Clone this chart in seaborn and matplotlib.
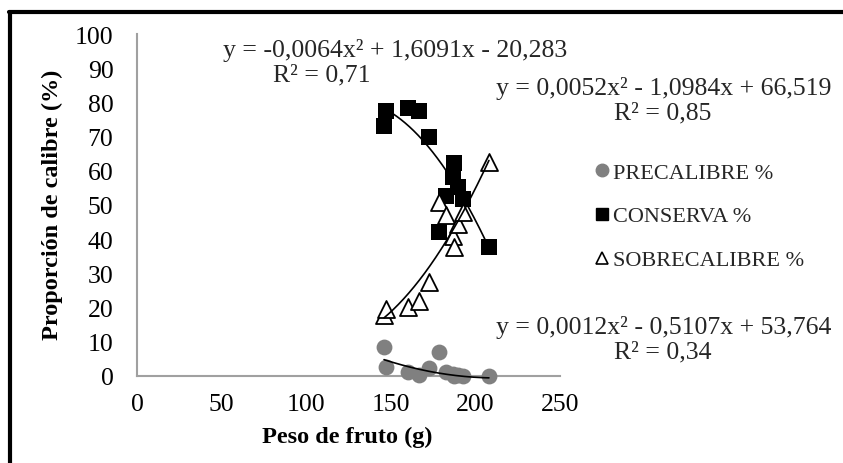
import numpy as np
import pandas as pd
import matplotlib
matplotlib.use("Agg")
import matplotlib.pyplot as plt
import seaborn as sns
from matplotlib.lines import Line2D

# Fruit weight (g) of each sample and the share of each size class (%)
peso = [146, 147, 160, 166.5, 172.5, 178.5, 182.5, 186.5, 187.5, 189.5, 192.5, 208]
precalibre = [8.4, 2.5, 1.1, 0.2, 2.2, 6.9, 1.1, 0.6, 0.1, 0.2, 0.0, 0.0]
conserva = [73.2, 77.6, 78.3, 77.6, 70.0, 42.0, 52.7, 58.1, 62.3, 55.2, 51.8, 37.6]
sobrecalibre = [17.8, 19.6, 20.1, 22.0, 27.6, 50.8, 47.1, 41.0, 37.6, 44.4, 47.9, 62.5]

series_names = ["PRECALIBRE %", "CONSERVA %", "SOBRECALIBRE %"]

# Second-order polynomial trend lines (highest power first)
coef_pre = [0.0012, -0.5107, 53.764]
coef_con = [-0.0064, 1.6091, -20.283]
coef_sob = [0.0052, -1.0984, 66.519]

eq_pre = "y = 0,0012x² - 0,5107x + 53,764"
r2_pre = "R² = 0,34"
eq_con = "y = -0,0064x² + 1,6091x - 20,283"
r2_con = "R² = 0,71"
eq_sob = "y = 0,0052x² - 1,0984x + 66,519"
r2_sob = "R² = 0,85"

x_ticks = [0, 50, 100, 150, 200, 250]
y_ticks = [0, 10, 20, 30, 40, 50, 60, 70, 80, 90, 100]

sns.set_theme(style="white")
plt.rcParams["font.family"] = ["Liberation Serif", "DejaVu Serif"]

W, H = 843, 464
fig = plt.figure(figsize=(W / 100, H / 100), dpi=100)


def fx(px):
    return px / W


def fy(py):
    return 1 - py / H


ax = fig.add_axes([fx(137), fy(377), fx(560) - fx(137), fy(35) - fy(377)])

df = pd.DataFrame({
    "peso": peso * 3,
    "valor": precalibre + conserva + sobrecalibre,
    "serie": [series_names[0]] * len(peso) + [series_names[1]] * len(peso)
             + [series_names[2]] * len(peso),
})

styles = {
    series_names[0]: dict(marker="o", color="#808080", edgecolor="#808080", s=130, linewidth=0),
    series_names[1]: dict(marker="s", color="black", edgecolor="black", s=130, linewidth=0),
    series_names[2]: dict(marker="^", color="white", edgecolor="black", s=150, linewidth=1.3),
}

for name in series_names:
    sub = df[df["serie"] == name]
    sns.scatterplot(data=sub, x="peso", y="valor", ax=ax, label=name, zorder=3,
                    clip_on=False, **styles[name])

# Trend curves over the observed weight range
xs = np.linspace(min(peso), max(peso), 200)
for coef in (coef_pre, coef_con, coef_sob):
    sns.lineplot(x=xs, y=np.polyval(coef, xs), ax=ax, color="black",
                 linewidth=1.2, zorder=4, legend=False, clip_on=False)

ax.set_xlim(0, 250)
ax.set_ylim(0, 100)
ax.set_xticks(x_ticks)
ax.set_yticks(y_ticks)
ax.tick_params(axis="both", length=0, labelsize=18.5, colors="black")
ax.tick_params(axis="y", pad=17)
ax.tick_params(axis="x", pad=12)
for side in ("top", "right"):
    ax.spines[side].set_visible(False)
for side in ("left", "bottom"):
    ax.spines[side].set_color("#a0a0a0")
    ax.spines[side].set_linewidth(1.5)
ax.set_xlabel("")
ax.set_ylabel("")
ax.legend_.remove()

fig.text(fx(52), fy(205), "Proporción de calibre (%)", rotation=90, ha="center",
         va="center", fontsize=17.5, fontweight="bold", color="black")
fig.text(fx(347), fy(437), "Peso de fruto (g)", ha="center", va="center",
         fontsize=17.5, fontweight="bold", color="black")

# Trend-line equations
eq_font = 18.5
fig.text(fx(395), fy(50), eq_con, ha="center", va="center", fontsize=eq_font)
fig.text(fx(322), fy(75), r2_con, ha="center", va="center", fontsize=eq_font)
fig.text(fx(664), fy(88), eq_sob, ha="center", va="center", fontsize=eq_font)
fig.text(fx(663), fy(113), r2_sob, ha="center", va="center", fontsize=eq_font)
fig.text(fx(664), fy(328), eq_pre, ha="center", va="center", fontsize=eq_font)
fig.text(fx(663), fy(352), r2_pre, ha="center", va="center", fontsize=eq_font)

# Legend to the right of the plot
handles = [
    Line2D([], [], linestyle="none", marker="o", markersize=9,
           markerfacecolor="#808080", markeredgecolor="#808080"),
    Line2D([], [], linestyle="none", marker="s", markersize=9,
           markerfacecolor="black", markeredgecolor="black"),
    Line2D([], [], linestyle="none", marker="^", markersize=9,
           markerfacecolor="white", markeredgecolor="black", markeredgewidth=1.2),
]
fig.legend(handles, series_names, loc="upper left",
           bbox_to_anchor=(fx(595), fy(163)), frameon=False, fontsize=16,
           handlelength=0.6, handletextpad=0.2, labelspacing=1.05,
           borderpad=0, borderaxespad=0)

# Outer frame (left and top edges)
fig.add_artist(Line2D([fx(10), fx(10)], [0, fy(12.5)], color="black",
                      linewidth=3, transform=fig.transFigure))
fig.add_artist(Line2D([fx(8.5), 1], [fy(12.5), fy(12.5)], color="black",
                      linewidth=3, transform=fig.transFigure))

fig.savefig("out.png", dpi=100)
